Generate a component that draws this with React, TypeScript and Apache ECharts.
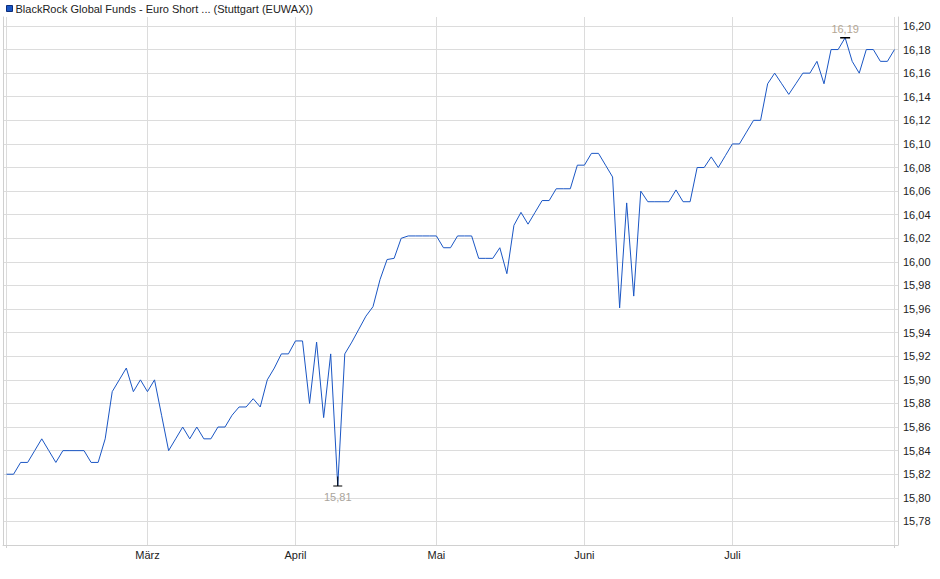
import React, { useEffect, useRef } from "react";
import * as echarts from "echarts";

const seriesName = "BlackRock Global Funds - Euro Short ... (Stuttgart (EUWAX))";

// trading period (EUWAX trading days)
const startDate = "2025-02-03";
const endDate = "2025-08-01";
const holidays = ["2025-04-18", "2025-04-21", "2025-05-01"];

const monthNames = ["Jan", "Feb", "März", "April", "Mai", "Juni", "Juli", "Aug", "Sep", "Okt", "Nov", "Dez"];

// closing prices, one per trading day
const pricesFeb = [
  15.82, 15.82, 15.83, 15.83, 15.84, 15.85, 15.84, 15.83, 15.84, 15.84,
  15.84, 15.84, 15.83, 15.83, 15.85, 15.89, 15.9, 15.91, 15.89, 15.9,
];
const pricesMar = [
  15.89, 15.9, 15.87, 15.84, 15.85, 15.86, 15.85, 15.86, 15.85, 15.85,
  15.86, 15.86, 15.87, 15.877, 15.877, 15.884, 15.877, 15.9, 15.91, 15.922, 15.922,
];
const pricesApr = [
  15.933, 15.933, 15.88, 15.932, 15.868, 15.922, 15.81, 15.922, 15.932, 15.943,
  15.954, 15.962, 15.985, 16.002, 16.003, 16.02, 16.022, 16.022, 16.022, 16.022,
];
const pricesMay = [
  16.022, 16.012, 16.012, 16.022, 16.022, 16.022, 16.003, 16.003, 16.003, 16.012,
  15.99, 16.031, 16.042, 16.032, 16.042, 16.052, 16.052, 16.062, 16.062, 16.062, 16.082,
];
const pricesJun = [
  16.082, 16.092, 16.092, 16.082, 16.072, 15.961, 16.05, 15.971, 16.06, 16.051,
  16.051, 16.051, 16.051, 16.061, 16.051, 16.051, 16.08, 16.08, 16.089, 16.08, 16.09,
];
const pricesJul = [
  16.1, 16.1, 16.11, 16.12, 16.12, 16.151, 16.16, 16.151, 16.142, 16.151,
  16.16, 16.16, 16.17, 16.151, 16.18, 16.18, 16.19, 16.17, 16.16, 16.18,
  16.18, 16.17, 16.17,
];
const pricesAug = [16.18];

const yMin = 15.76;
const yMax = 16.2076;
const yStep = 0.02;

function buildTradingDays(): string[] {
  const out: string[] = [];
  const d = new Date(startDate + "T00:00:00Z");
  const end = new Date(endDate + "T00:00:00Z");
  while (d <= end) {
    const wd = d.getUTCDay();
    const s = d.toISOString().slice(0, 10);
    if (wd !== 0 && wd !== 6 && !holidays.includes(s)) out.push(s);
    d.setUTCDate(d.getUTCDate() + 1);
  }
  return out;
}

const fmt = (v: number) => v.toFixed(2).replace(".", ",");

export default function App() {
  const ref = useRef<HTMLDivElement>(null);

  useEffect(() => {
    if (!ref.current) return;
    const chart = echarts.init(ref.current, undefined, { renderer: "svg" });

    const dates = buildTradingDays();
    const prices = [
      ...pricesFeb, ...pricesMar, ...pricesApr, ...pricesMay,
      ...pricesJun, ...pricesJul, ...pricesAug,
    ];
    const n = Math.min(dates.length, prices.length);
    const cats = dates.slice(0, n);
    const vals = prices.slice(0, n);
    const last = n - 1;

    const monthOf = (s: string) => parseInt(s.slice(5, 7), 10) - 1;
    const isMonthStart = (i: number) =>
      i > 0 && i < last && monthOf(cats[i]) !== monthOf(cats[i - 1]);

    const vLines: number[] = [0];
    for (let i = 1; i < last; i++) if (isMonthStart(i)) vLines.push(i);
    vLines.push(last);

    let maxI = 0;
    let minI = 0;
    vals.forEach((v, i) => {
      if (v > vals[maxI]) maxI = i;
      if (v < vals[minI]) minI = i;
    });

    const gridColor = "#dcdcdc";
    const font = '"Liberation Sans", Arial, sans-serif';

    chart.setOption({
      animation: false,
      textStyle: { fontFamily: font },
      legend: {
        data: [{ name: seriesName, icon: "rect" }],
        left: 1,
        top: -2,
        itemWidth: 6,
        itemHeight: 6,
        selectedMode: false,
        itemStyle: { borderColor: "#0c2d7a", borderWidth: 1 },
        textStyle: { fontSize: 11, color: "#222", fontFamily: font, padding: [0, 0, 0, -2] },
      },
      grid: { left: 3, right: 42, top: 17, bottom: 34 },
      xAxis: {
        type: "category",
        data: cats,
        boundaryGap: true,
        axisLine: { show: true, lineStyle: { color: "#d0d0d0" } },
        axisTick: {
          show: true,
          alignWithLabel: true,
          length: 3,
          interval: (i: number) => i === 0 || i === last,
          lineStyle: { color: "#d0d0d0" },
        },
        axisLabel: {
          interval: (i: number) => isMonthStart(i),
          formatter: (v: string) => monthNames[monthOf(v)],
          fontSize: 11,
          color: "#222",
          margin: 4,
          fontFamily: font,
        },
        splitLine: { show: false },
      },
      yAxis: [
        {
          type: "value",
          position: "right",
          min: yMin,
          max: yMax,
          interval: yStep,
          axisLine: { show: true, lineStyle: { color: "#d0d0d0" } },
          axisTick: { show: false },
          axisLabel: {
            showMinLabel: false,
            showMaxLabel: false,
            fontSize: 11,
            color: "#222",
            margin: 5,
            fontFamily: font,
            formatter: (v: number) => {
              const k = v / yStep;
              return Math.abs(k - Math.round(k)) < 1e-6 ? fmt(v) : "";
            },
          },
          splitLine: {
            show: true,
            showMinLine: false,
            showMaxLine: false,
            lineStyle: { color: gridColor, width: 1 },
          },
        },
        {
          type: "value",
          position: "left",
          min: yMin,
          max: yMax,
          interval: yStep,
          axisLine: { show: true, lineStyle: { color: "#d0d0d0" } },
          axisTick: { show: false },
          axisLabel: { show: false },
          splitLine: { show: false },
        },
      ],
      series: [
        {
          name: seriesName,
          type: "line",
          data: vals,
          yAxisIndex: 0,
          z: 3,
          symbol: "none",
          lineStyle: { color: "#1a56c4", width: 1 },
          itemStyle: { color: "#1a56c4" },
          markLine: {
            silent: true,
            z: 1,
            symbol: ["none", "none"],
            label: { show: false },
            lineStyle: { color: gridColor, type: "solid", width: 1 },
            data: vLines.map((i) => ({ xAxis: cats[i] })),
          },
          markPoint: {
            silent: true,
            data: [
              {
                coord: [cats[maxI], vals[maxI]],
                symbol: "rect",
                symbolSize: [10, 1.5],
                itemStyle: { color: "#000" },
                label: {
                  show: true,
                  position: "top",
                  distance: 3,
                  formatter: fmt(vals[maxI]),
                  color: "#b3a693",
                  fontSize: 11,
                  fontFamily: font,
                },
              },
              {
                coord: [cats[minI], vals[minI]],
                symbol: "path://M4,0 L5,0 L5,9 L9,9 L9,10 L0,10 L0,9 L4,9 Z",
                symbolSize: [9, 10],
                symbolOffset: [0, -4.5],
                itemStyle: { color: "#000" },
                label: {
                  show: true,
                  position: "bottom",
                  distance: 5,
                  formatter: fmt(vals[minI]),
                  color: "#a9a49c",
                  fontSize: 11,
                  fontFamily: font,
                },
              },
            ],
          },
        },
      ],
    });

    return () => chart.dispose();
  }, []);

  return (
    <div
      ref={ref}
      style={{ position: "absolute", left: 0, top: 0, width: 940, height: 579, background: "#fff" }}
    />
  );
}
